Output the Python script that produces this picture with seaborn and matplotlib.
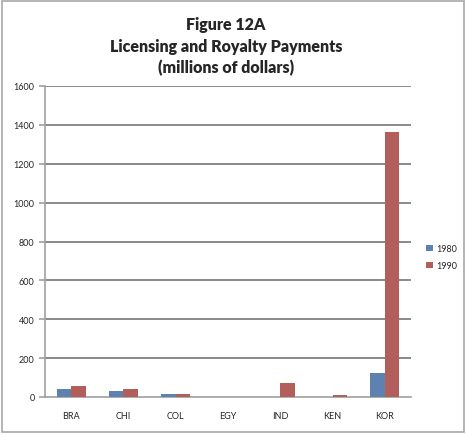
import pandas as pd
import seaborn as sns
import matplotlib.pyplot as plt
from matplotlib.patches import Rectangle

# data
countries = ['BRA', 'CHI', 'COL', 'EGY', 'IND', 'KEN', 'KOR']
pay_1980 = [40, 32, 14, 0, 0, 0, 123]
pay_1990 = [56, 40, 14, 0, 72, 8, 1365]
years = ['1980', '1990']

df = pd.DataFrame({
    'country': countries * 2,
    'year': [years[0]] * len(countries) + [years[1]] * len(countries),
    'value': pay_1980 + pay_1990,
})

sns.set_style('white')
plt.rcParams['font.family'] = ['Lato', 'DejaVu Sans']

fig = plt.figure(figsize=(4.66, 4.35), dpi=100)
ax = fig.add_axes([45 / 466, 1 - 398 / 435, 366 / 466, 311 / 435])

sns.barplot(data=df, x='country', y='value', hue='year',
            palette=['#4F81BD', '#C0504D'], width=0.55, ax=ax, legend=True,
            linewidth=0, zorder=3)

ax.set_ylim(0, 1600)
yticks = list(range(0, 1601, 200))
ax.set_yticks(yticks)
ax.set_xlim(-0.5, len(countries) - 0.5)
ax.set_xlabel('')
ax.set_ylabel('')
ax.grid(False)
# horizontal gridlines
ax.hlines(yticks[1:], -0.5, len(countries) - 0.5, colors='#808080',
          linewidth=1.3, zorder=2)
for s in ['top', 'right']:
    ax.spines[s].set_visible(False)
for s in ['left', 'bottom']:
    ax.spines[s].set_color('#a0a0a0')
    ax.spines[s].set_linewidth(1.2)

# ticks between categories on the x axis
ax.set_xticks([i - 0.5 for i in range(len(countries) + 1)], minor=True)
ax.tick_params(axis='x', which='major', length=0, labelsize=6.5, pad=10)
ax.tick_params(axis='x', which='minor', length=4, color='#a0a0a0', width=1.2)
ax.tick_params(axis='y', length=4, color='#a0a0a0', width=1.2, labelsize=6.5, left=True)

ax.legend(loc='center left', bbox_to_anchor=(1.02, 0.45), frameon=False,
          fontsize=6.5, handlelength=0.7, handleheight=0.7, handletextpad=0.4,
          labelspacing=0.9)

fig.text(0.485, 0.96, 'Figure 12A\nLicensing and Royalty Payments\n(millions of dollars)',
         ha='center', va='top', fontsize=11.5, fontweight='heavy', linespacing=1.4)

fig.patches.append(Rectangle((0.004, 0.004), 0.992, 0.992, transform=fig.transFigure,
                             fill=False, edgecolor='#a8a8a8', linewidth=1.2))

fig.savefig('out.png', dpi=100)
